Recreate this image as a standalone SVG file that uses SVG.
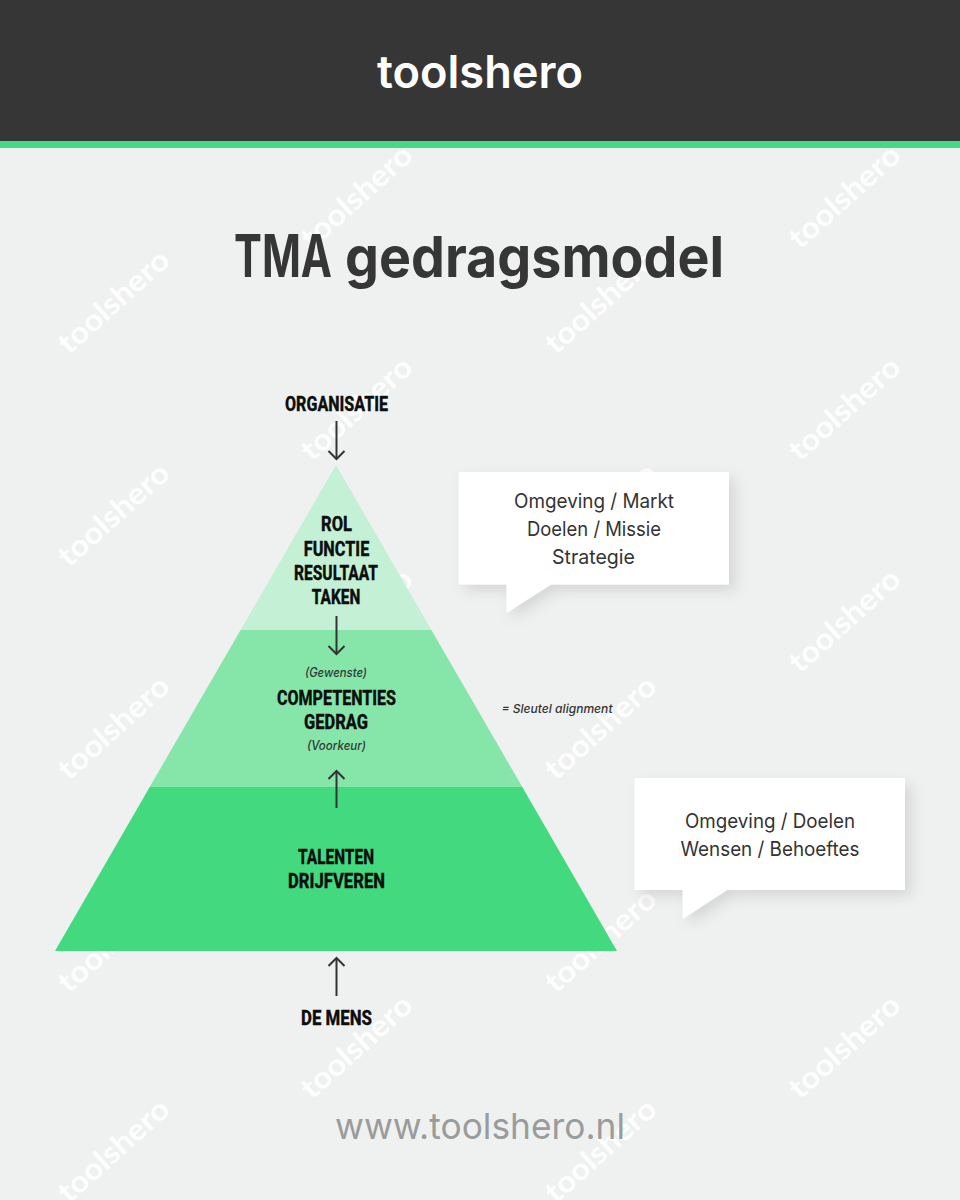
<svg xmlns="http://www.w3.org/2000/svg" width="960" height="1200" viewBox="0 0 960 1200">
<style>
text{text-anchor:middle}
.wm{font:700 30px Lato,"Open Sans",sans-serif;fill:#fff;fill-opacity:.92}
.lab{font:800 21px "Liberation Sans Narrow",Roboto,sans-serif;fill:#0c0f0d;stroke:#0c0f0d;stroke-width:.3}
.it{font:italic 500 12.5px Inter,Roboto,sans-serif;fill:#2f3a34}
.co{font:400 20px Inter,Roboto,sans-serif;fill:#333}
.conn{fill:none;stroke:#333;stroke-width:2;marker-end:url(#open)}
</style>
<defs>
<marker id="open" markerUnits="userSpaceOnUse" markerWidth="20" markerHeight="20" refX="11" refY="10" orient="auto">
<path d="M3 2L11 10L3 18" fill="none" stroke="#333" stroke-width="2"/>
</marker>
<filter id="sh" x="-10%" y="-10%" width="125%" height="135%"><feDropShadow dx="6" dy="6" stdDeviation="7" flood-color="#000" flood-opacity=".11"/></filter>
</defs>
<rect width="960" height="1200" fill="#eff1f0"/>
<g id="watermarks">
<text class="wm" textLength="138" lengthAdjust="spacingAndGlyphs" transform="translate(113 301) rotate(-42) translate(0 11)">toolshero</text>
<text class="wm" textLength="138" lengthAdjust="spacingAndGlyphs" transform="translate(113 514) rotate(-42) translate(0 11)">toolshero</text>
<text class="wm" textLength="138" lengthAdjust="spacingAndGlyphs" transform="translate(113 727) rotate(-42) translate(0 11)">toolshero</text>
<text class="wm" textLength="138" lengthAdjust="spacingAndGlyphs" transform="translate(113 940) rotate(-42) translate(0 11)">toolshero</text>
<text class="wm" textLength="138" lengthAdjust="spacingAndGlyphs" transform="translate(113 1150) rotate(-42) translate(0 11)">toolshero</text>
<text class="wm" textLength="138" lengthAdjust="spacingAndGlyphs" transform="translate(600 301) rotate(-42) translate(0 11)">toolshero</text>
<text class="wm" textLength="138" lengthAdjust="spacingAndGlyphs" transform="translate(600 514) rotate(-42) translate(0 11)">toolshero</text>
<text class="wm" textLength="138" lengthAdjust="spacingAndGlyphs" transform="translate(600 727) rotate(-42) translate(0 11)">toolshero</text>
<text class="wm" textLength="138" lengthAdjust="spacingAndGlyphs" transform="translate(600 940) rotate(-42) translate(0 11)">toolshero</text>
<text class="wm" textLength="138" lengthAdjust="spacingAndGlyphs" transform="translate(600 1150) rotate(-42) translate(0 11)">toolshero</text>
<text class="wm" textLength="138" lengthAdjust="spacingAndGlyphs" transform="translate(356 196) rotate(-42) translate(0 11)">toolshero</text>
<text class="wm" textLength="138" lengthAdjust="spacingAndGlyphs" transform="translate(356 408) rotate(-42) translate(0 11)">toolshero</text>
<text class="wm" textLength="138" lengthAdjust="spacingAndGlyphs" transform="translate(356 620) rotate(-42) translate(0 11)">toolshero</text>
<text class="wm" textLength="138" lengthAdjust="spacingAndGlyphs" transform="translate(356 1046) rotate(-42) translate(0 11)">toolshero</text>
<text class="wm" textLength="138" lengthAdjust="spacingAndGlyphs" transform="translate(844 196) rotate(-42) translate(0 11)">toolshero</text>
<text class="wm" textLength="138" lengthAdjust="spacingAndGlyphs" transform="translate(844 408) rotate(-42) translate(0 11)">toolshero</text>
<text class="wm" textLength="138" lengthAdjust="spacingAndGlyphs" transform="translate(844 620) rotate(-42) translate(0 11)">toolshero</text>
<text class="wm" textLength="138" lengthAdjust="spacingAndGlyphs" transform="translate(844 1046) rotate(-42) translate(0 11)">toolshero</text>
</g>
<g id="header">
<rect width="960" height="141" fill="#363636"/>
<rect y="141" width="960" height="7" fill="#46d983"/>
<text x="480" y="88" textLength="206" lengthAdjust="spacingAndGlyphs" style="font:600 45px Inter,Lato,sans-serif;fill:#fff">toolshero</text>
</g>
<text id="title" y="277" style="font:700 56px Inter,Lato,sans-serif;fill:#363636;text-anchor:start"><tspan x="234" y="277" textLength="98" lengthAdjust="spacingAndGlyphs" style="font-size:59px;text-anchor:start">TMA</tspan> <tspan x="345" y="277" textLength="379" lengthAdjust="spacingAndGlyphs" style="text-anchor:start">gedragsmodel</tspan></text>
<g id="layer-top">
<polygon points="336,465 431.4,630 240.6,630" fill="#c4f0d5"/>
<text class="lab" x="336.5" y="531" textLength="31" lengthAdjust="spacingAndGlyphs">ROL</text>
<text class="lab" x="336.5" y="555.5" textLength="65.5" lengthAdjust="spacingAndGlyphs">FUNCTIE</text>
<text class="lab" x="336" y="579.5" textLength="84" lengthAdjust="spacingAndGlyphs">RESULTAAT</text>
<text class="lab" x="336" y="604" textLength="48.5" lengthAdjust="spacingAndGlyphs">TAKEN</text>
</g>
<g id="layer-middle">
<polygon points="240.6,630 431.4,630 522.3,787 149.7,787" fill="#86e5a9"/>
<text class="it" x="336" y="677" textLength="62" lengthAdjust="spacingAndGlyphs">(Gewenste)</text>
<text class="lab" x="336.5" y="704.700" textLength="119" lengthAdjust="spacingAndGlyphs">COMPETENTIES</text>
<text class="lab" x="336" y="728.700" textLength="64" lengthAdjust="spacingAndGlyphs">GEDRAG</text>
<text class="it" x="336.5" y="750" textLength="59" lengthAdjust="spacingAndGlyphs">(Voorkeur)</text>
</g>
<g id="layer-bottom">
<polygon points="149.7,787 522.3,787 617,951 55,951" fill="#43d97f"/>
<text class="lab" x="336" y="863.5" textLength="76" lengthAdjust="spacingAndGlyphs">TALENTEN</text>
<text class="lab" x="336.5" y="887.5" textLength="97" lengthAdjust="spacingAndGlyphs">DRIJFVEREN</text>
</g>
<g id="organisatie"><text class="lab" x="336.5" y="410.5" textLength="103" lengthAdjust="spacingAndGlyphs">ORGANISATIE</text></g>
<g id="de-mens"><text class="lab" x="336.5" y="1025" textLength="71" lengthAdjust="spacingAndGlyphs">DE MENS</text></g>
<g id="connectors">
<path class="conn" d="M336.500 421V459"/>
<path class="conn" d="M336.500 616V654"/>
<path class="conn" d="M336.500 808V771"/>
<path class="conn" d="M336.500 996V958"/>
</g>
<g id="callout-1">
<path d="M458.700 472H729V584.500H551L506.500 613V584.500H458.700Z" fill="#fff" filter="url(#sh)"/>
<text class="co" x="594" y="507.500" textLength="160" lengthAdjust="spacingAndGlyphs">Omgeving / Markt</text>
<text class="co" x="594" y="535.500" textLength="134" lengthAdjust="spacingAndGlyphs">Doelen / Missie</text>
<text class="co" x="593.500" y="563.500" textLength="83" lengthAdjust="spacingAndGlyphs">Strategie</text>
</g>
<g id="callout-2">
<path d="M634.500 778H905V890H727L682.700 919V890H634.500Z" fill="#fff" filter="url(#sh)"/>
<text class="co" x="770" y="828" textLength="170" lengthAdjust="spacingAndGlyphs">Omgeving / Doelen</text>
<text class="co" x="770" y="855.500" textLength="179" lengthAdjust="spacingAndGlyphs">Wensen / Behoeftes</text>
</g>
<text id="key-note" x="557" y="712.500" textLength="111" lengthAdjust="spacingAndGlyphs" style="font:italic 500 12px Inter,Roboto,sans-serif;fill:#333">= Sleutel alignment</text>
<text id="footer" x="480" y="1139" textLength="290" lengthAdjust="spacingAndGlyphs" style="font:400 36px Inter,Lato,sans-serif;fill:#9a9c9b">www.toolshero.nl</text>
</svg>
